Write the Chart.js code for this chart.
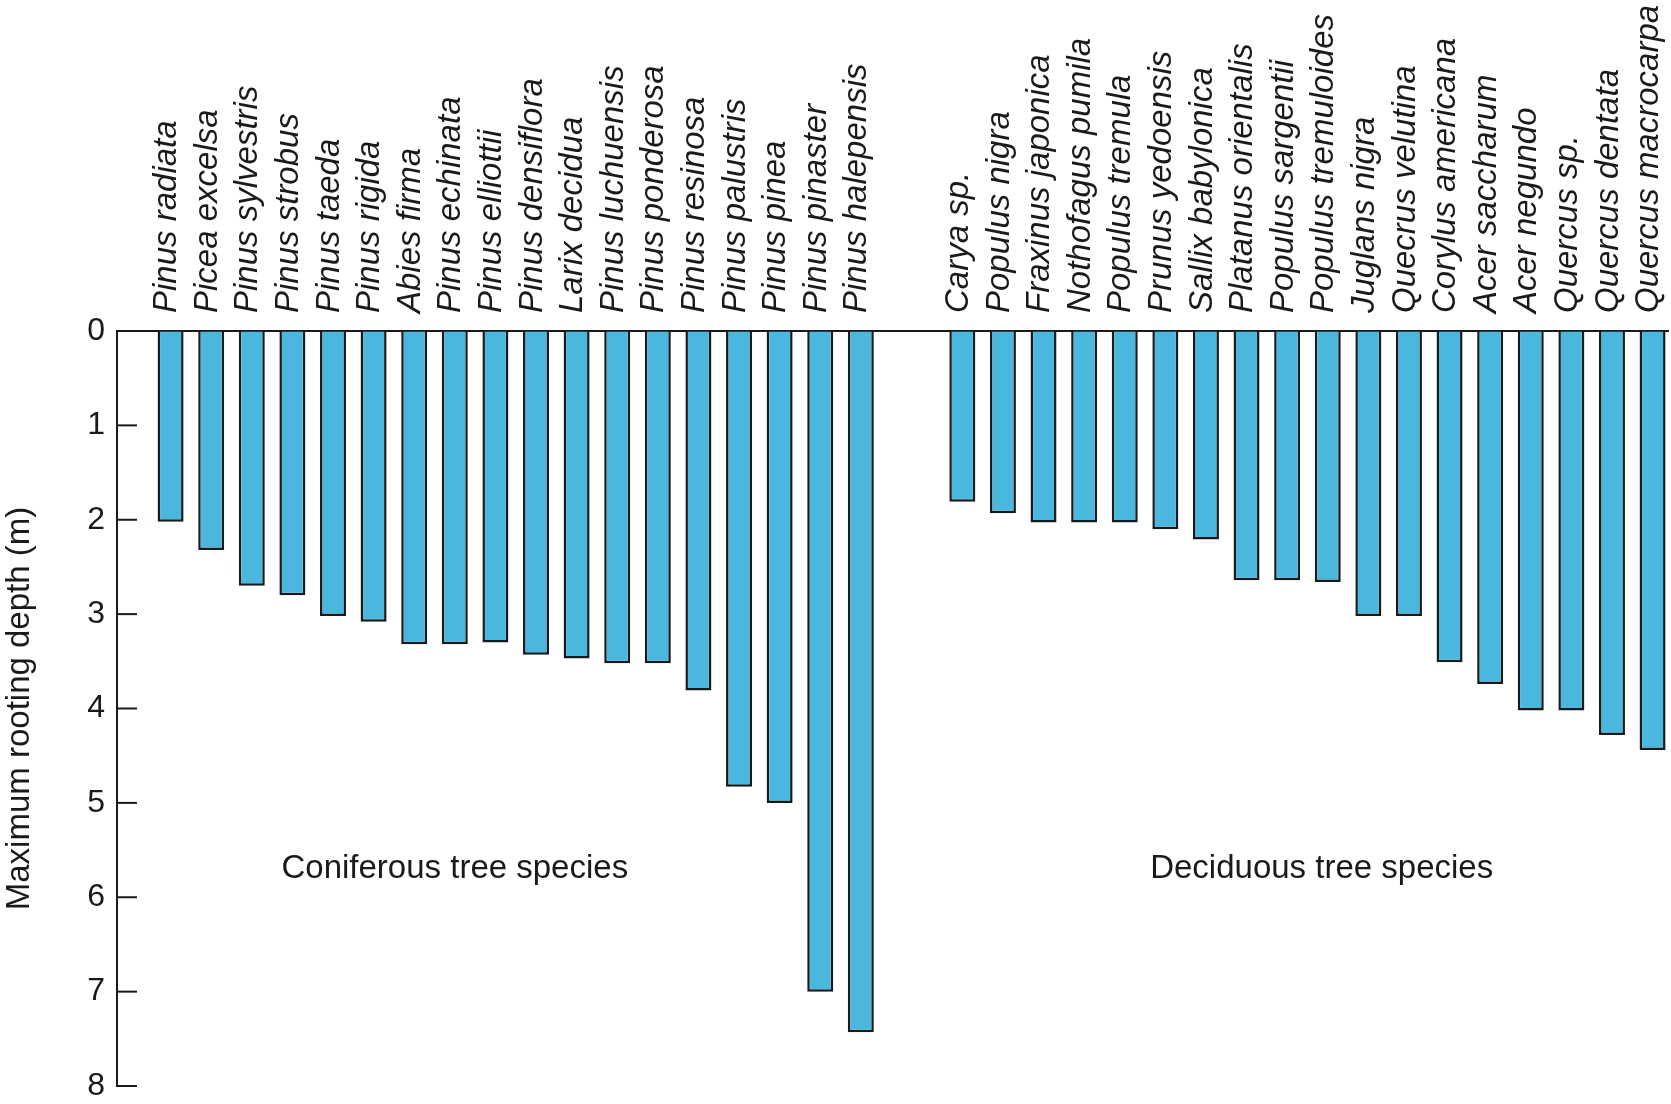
<!DOCTYPE html>
<html>
<head>
<meta charset="utf-8">
<script src="https://cdn.jsdelivr.net/npm/chart.js@4.4.0/dist/chart.umd.min.js"></script>
<style>
  html, body { margin: 0; padding: 0; background: #ffffff; }
  canvas { display: block; }
</style>
</head>
<body>
<canvas id="c" width="1671" height="1104"></canvas>
<script>
// ---- Data ----
const coniferousSpecies = [
  'Pinus radiata', 'Picea excelsa', 'Pinus sylvestris', 'Pinus strobus', 'Pinus taeda',
  'Pinus rigida', 'Abies firma', 'Pinus echinata', 'Pinus elliottii', 'Pinus densiflora',
  'Larix decidua', 'Pinus luchuensis', 'Pinus ponderosa', 'Pinus resinosa', 'Pinus palustris',
  'Pinus pinea', 'Pinus pinaster', 'Pinus halepensis'
];
const coniferousDepth = [
  2.02, 2.32, 2.7, 2.8, 3.02,
  3.08, 3.32, 3.32, 3.3, 3.43,
  3.47, 3.52, 3.52, 3.81, 4.83,
  5.0, 7.0, 7.43
];
const deciduousSpecies = [
  'Carya sp.', 'Populus nigra', 'Fraxinus japonica', 'Nothofagus pumila', 'Populus tremula',
  'Prunus yedoensis', 'Sallix babylonica', 'Platanus orientalis', 'Populus sargentii', 'Populus tremuloides',
  'Juglans nigra', 'Quecrus velutina', 'Corylus americana', 'Acer saccharum', 'Acer negundo',
  'Quercus sp.', 'Quercus dentata', 'Quercus macrocarpa'
];
const deciduousDepth = [
  1.81, 1.93, 2.03, 2.03, 2.03,
  2.1, 2.21, 2.64, 2.64, 2.66,
  3.02, 3.02, 3.51, 3.74, 4.02,
  4.02, 4.28, 4.44
];
const yTicks = [0, 1, 2, 3, 4, 5, 6, 7, 8];
const groupLabels = ['Coniferous tree species', 'Deciduous tree species'];
const groupLabelX = [7.0, 28.35];     // in category-slot units
const groupLabelDepth = 5.7;          // in metres
const groupGap = 1.5;                 // empty slots between the two groups
const yTitle = 'Maximum rooting depth (m)';

// ---- Derived ----
const conX = coniferousSpecies.map((_, i) => i);
const decX = deciduousSpecies.map((_, i) => coniferousSpecies.length + groupGap + i);
const allX = conX.concat(decX);
const allNames = coniferousSpecies.concat(deciduousSpecies);
const allDepth = coniferousDepth.concat(deciduousDepth);
const points = allX.map((x, i) => ({ x: x, y: allDepth[i] }));

const INK = '#1a1a1a';
const FAMILY = '"Liberation Sans", Arial, Helvetica, sans-serif';
Chart.defaults.font.family = FAMILY;
Chart.defaults.color = INK;

const overlay = {
  id: 'overlay',
  afterDraw(chart) {
    const { ctx, chartArea, scales: { x, y } } = chart;
    ctx.save();
    ctx.strokeStyle = INK;
    ctx.lineWidth = 2;
    y.ticks.forEach(t => {
      const py = y.getPixelForValue(t.value);
      ctx.beginPath();
      ctx.moveTo(chartArea.left, py);
      ctx.lineTo(chartArea.left + 20, py);
      ctx.stroke();
    });
    ctx.fillStyle = INK;
    ctx.font = '33px ' + FAMILY;
    ctx.textAlign = 'center';
    ctx.textBaseline = 'middle';
    groupLabels.forEach((txt, i) => {
      ctx.fillText(txt, x.getPixelForValue(groupLabelX[i]), y.getPixelForValue(groupLabelDepth));
    });
    ctx.restore();
  }
};

new Chart(document.getElementById('c'), {
  type: 'bar',
  data: {
    datasets: [{
      data: points,
      backgroundColor: '#4ab8de',
      borderColor: INK,
      borderWidth: 2.5,
      barPercentage: 0.64,
      categoryPercentage: 1.0
    }]
  },
  options: {
    responsive: false,
    devicePixelRatio: 1,
    animation: false,
    layout: { padding: { top: 0, left: 0, right: 3, bottom: 18 } },
    plugins: { legend: { display: false }, tooltip: { enabled: false } },
    scales: {
      x: {
        type: 'linear',
        position: 'top',
        min: -1.32,
        max: 36.88,
        offset: false,
        afterBuildTicks: s => { s.ticks = allX.map(v => ({ value: v })); },
        afterFit: s => { s.height = 331; s.paddingLeft = 0; s.paddingRight = 0; },
        ticks: {
          autoSkip: false,
          minRotation: 90,
          maxRotation: 90,
          padding: 18,
          labelOffset: 36,
          color: INK,
          font: { size: 33, style: 'italic' },
          callback: (v, i) => allNames[i]
        },
        grid: { display: true, drawOnChartArea: false, drawTicks: false, offset: false },
        border: { display: true, color: INK, width: 2 }
      },
      y: {
        reverse: true,
        min: 0,
        max: 8,
        afterBuildTicks: s => { s.ticks = yTicks.map(v => ({ value: v })); },
        afterFit: s => { s.width = 117; s.paddingTop = 0; s.paddingBottom = 0; },
        ticks: { padding: 12, color: INK, font: { size: 32 } },
        grid: { display: true, drawOnChartArea: false, drawTicks: false },
        border: { display: true, color: INK, width: 2 },
        title: {
          display: true,
          text: yTitle,
          color: INK,
          font: { size: 33 },
          padding: { top: 0, bottom: 0 }
        }
      }
    }
  },
  plugins: [overlay]
});
</script>
</body>
</html>
